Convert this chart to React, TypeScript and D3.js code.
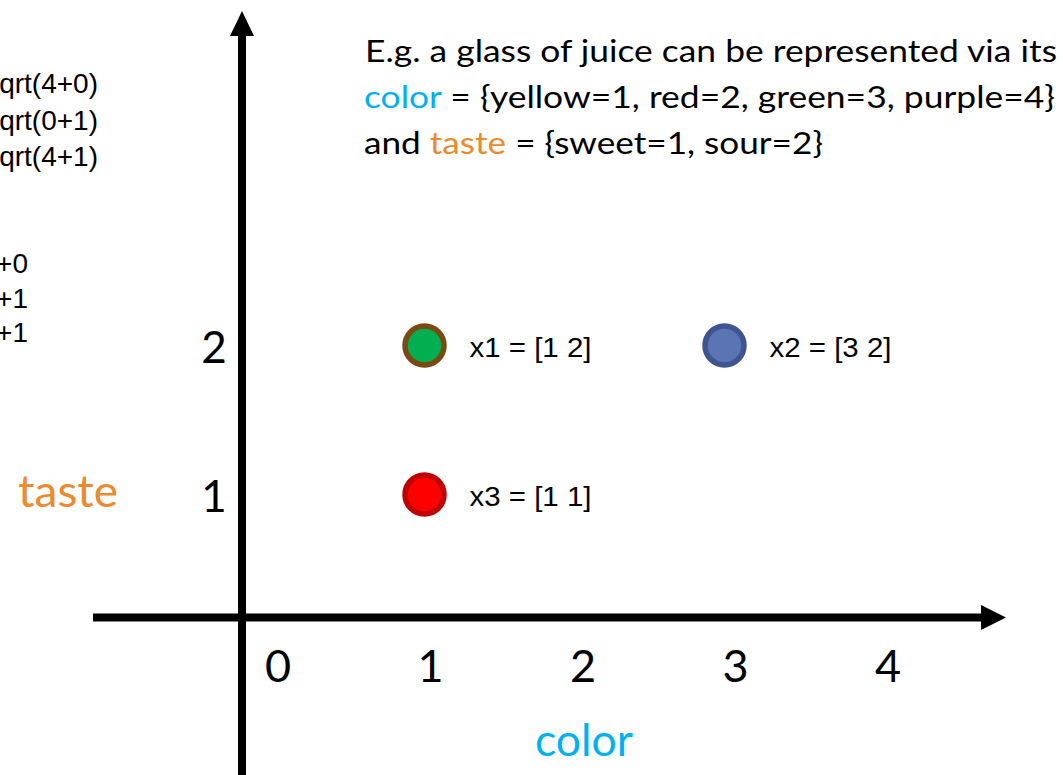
import React from "react";
import * as d3 from "d3";

// Feature values of three glasses of juice
const juiceNames = ["x1", "x2", "x3"];
const juiceColor = [1, 3, 1];
const juiceTaste = [2, 2, 1];

// Axis tick labels
const colorTicks = [0, 1, 2, 3, 4];
const tasteTicks = [1, 2];

// Distance notes at the left edge
const distanceRoots = ["sqrt(4+0)", "sqrt(0+1)", "sqrt(4+1)"];
const distanceSums = ["4+0", "0+1", "4+1"];

const W = 1063;
const H = 775;

const pointStyle = [
  { fill: "#00b050", stroke: "#7b4a12" },
  { fill: "#5b74b4", stroke: "#3f5590" },
  { fill: "#ff0000", stroke: "#c00000" },
];

const BLUE = "#00b0f0";
const ORANGE = "#eb8a2e";
const CAL = "Lato, 'Open Sans', sans-serif";
const ARIAL = "'Liberation Sans', Arial, sans-serif";

export default function App() {
  // point positions
  const x = d3.scaleLinear().domain([1, 3]).range([424.5, 724.5]);
  const y = d3.scaleLinear().domain([1, 2]).range([494.5, 345.5]);
  // tick label placement along the horizontal axis
  const xTick = d3.scaleLinear().domain([0, 4]).range([278, 888]);

  const axisY = 617.5;
  const axisX = 242;

  return (
    <svg
      width={W}
      height={H}
      style={{ position: "absolute", left: 0, top: 0, background: "#fff" }}
    >
      {/* left-edge notes */}
      {distanceRoots.map((s, i) => (
        <text
          key={"r" + i}
          x={98}
          y={93 + i * 36.5}
          textAnchor="end"
          fontFamily={ARIAL}
          fontSize={28}
          fill="#000"
        >
          {s}
        </text>
      ))}
      {distanceSums.map((s, i) => (
        <text
          key={"s" + i}
          x={28}
          y={273 + i * 34.5}
          textAnchor="end"
          fontFamily={ARIAL}
          fontSize={28}
          fill="#000"
        >
          {s}
        </text>
      ))}

      {/* description */}
      <g fontFamily={CAL} fontSize={31} fill="#000">
        <text x={365} y={62} textLength={692} lengthAdjust="spacingAndGlyphs">
          E.g. a glass of juice can be represented via its
        </text>
        <text x={364} y={108} textLength={691} lengthAdjust="spacingAndGlyphs">
          <tspan fill={BLUE}>color</tspan>
          <tspan> = {"{"}yellow=1, red=2, green=3, purple=4{"}"}</tspan>
        </text>
        <text x={364} y={154} textLength={459} lengthAdjust="spacingAndGlyphs">
          <tspan>and </tspan>
          <tspan fill={ORANGE}>taste</tspan>
          <tspan> = {"{"}sweet=1, sour=2{"}"}</tspan>
        </text>
      </g>

      {/* axes */}
      <line x1={axisX} x2={axisX} y1={33} y2={H} stroke="#000" strokeWidth={8} />
      <path
        d={`M${axisX - 12},36 L${axisX + 12},36 L${axisX},11 Z`}
        fill="#000"
      />
      <line x1={93} x2={983} y1={axisY} y2={axisY} stroke="#000" strokeWidth={8} />
      <path
        d={`M981,${axisY - 12.5} L981,${axisY + 12.5} L1006,${axisY} Z`}
        fill="#000"
      />

      {/* tick labels */}
      {colorTicks.map((t) => (
        <text
          key={"xt" + t}
          x={xTick(t)}
          y={682}
          textAnchor="middle"
          fontFamily={CAL}
          fontSize={45}
          fill="#000"
        >
          {t}
        </text>
      ))}
      {tasteTicks.map((t) => (
        <text
          key={"yt" + t}
          x={214}
          y={y(t) + 17}
          textAnchor="middle"
          fontFamily={CAL}
          fontSize={44}
          fill="#000"
        >
          {t}
        </text>
      ))}

      {/* axis titles */}
      <text
        x={18}
        y={507}
        fontFamily={CAL}
        fontSize={44}
        fill={ORANGE}
        textLength={100}
        lengthAdjust="spacingAndGlyphs"
      >
        taste
      </text>
      <text
        x={535}
        y={756}
        fontFamily={CAL}
        fontSize={44}
        fill={BLUE}
        textLength={98}
        lengthAdjust="spacingAndGlyphs"
      >
        color
      </text>

      {/* juice points */}
      {juiceNames.map((n, i) => (
        <g key={n}>
          <circle
            cx={x(juiceColor[i])}
            cy={y(juiceTaste[i])}
            r={19.5}
            fill={pointStyle[i].fill}
            stroke={pointStyle[i].stroke}
            strokeWidth={5.5}
          />
          <text
            x={x(juiceColor[i]) + 45}
            y={y(juiceTaste[i]) + 11.5}
            fontFamily={ARIAL}
            fontSize={27}
            fill="#000"
            textLength={122}
            lengthAdjust="spacingAndGlyphs"
          >
            {`${n} = [${juiceColor[i]} ${juiceTaste[i]}]`}
          </text>
        </g>
      ))}
    </svg>
  );
}
